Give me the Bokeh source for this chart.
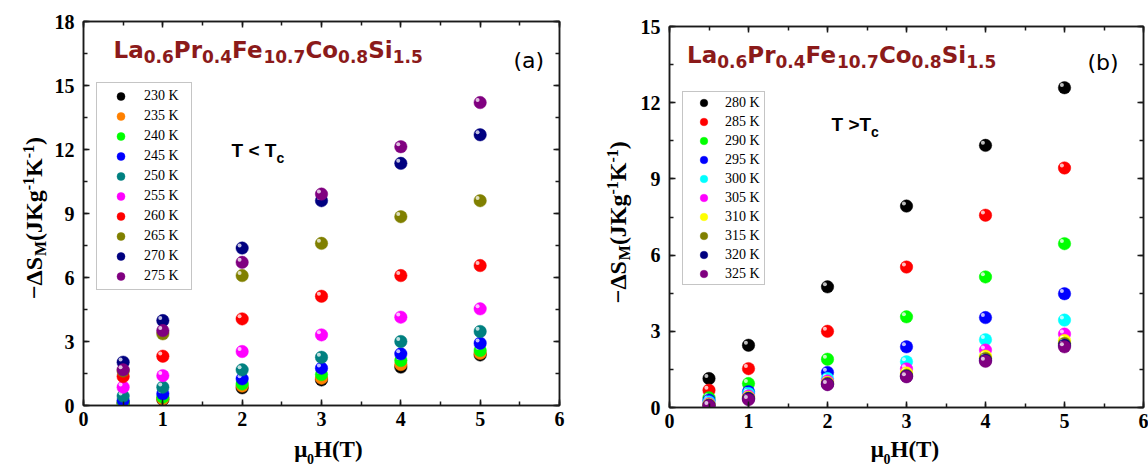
import math
from bokeh.plotting import figure
from bokeh.models import (Range1d, SingleIntervalTicker, LinearAxis, Label,
                          Legend, LegendItem, ColumnDataSource)
from bokeh.transform import dodge
from bokeh.layouts import row, column
from bokeh.embed import file_html
from bokeh.resources import INLINE

# ---------------- data ----------------
H = [0.5, 1, 2, 3, 4, 5]

labels_a = ["230 K", "235 K", "240 K", "245 K", "250 K",
            "255 K", "260 K", "265 K", "270 K", "275 K"]
colors_a = ["#000000", "#FF8000", "#00FF00", "#0000FF", "#008080",
            "#FF00FF", "#FF0000", "#808000", "#000080", "#800080"]
dS_230 = [0.10, 0.28, 0.83, 1.20, 1.80, 2.37]
dS_235 = [0.12, 0.31, 0.91, 1.28, 1.92, 2.45]
dS_240 = [0.15, 0.39, 1.01, 1.45, 2.11, 2.58]
dS_245 = [0.23, 0.55, 1.25, 1.75, 2.42, 2.92]
dS_250 = [0.44, 0.86, 1.67, 2.26, 3.00, 3.47]
dS_255 = [0.86, 1.40, 2.53, 3.31, 4.14, 4.53]
dS_260 = [1.36, 2.31, 4.06, 5.12, 6.09, 6.56]
dS_265 = [1.62, 3.36, 6.09, 7.60, 8.85, 9.60]
dS_270 = [2.03, 3.98, 7.38, 9.60, 11.35, 12.69]
dS_275 = [1.67, 3.51, 6.71, 9.91, 12.13, 14.20]
series_a = [dS_230, dS_235, dS_240, dS_245, dS_250,
            dS_255, dS_260, dS_265, dS_270, dS_275]

labels_b = ["280 K", "285 K", "290 K", "295 K", "300 K",
            "305 K", "310 K", "315 K", "320 K", "325 K"]
colors_b = ["#000000", "#FF0000", "#00FF00", "#0000FF", "#00FFFF",
            "#FF00FF", "#FFFF00", "#808000", "#000080", "#800080"]
dS_280 = [1.14, 2.45, 4.75, 7.93, 10.32, 12.59]
dS_285 = [0.68, 1.53, 3.00, 5.53, 7.57, 9.43]
dS_290 = [0.38, 0.94, 1.90, 3.57, 5.14, 6.45]
dS_295 = [0.29, 0.62, 1.38, 2.39, 3.54, 4.48]
dS_300 = [0.22, 0.55, 1.14, 1.80, 2.67, 3.44]
dS_305 = [0.15, 0.45, 1.04, 1.52, 2.26, 2.89]
dS_310 = [0.12, 0.40, 0.98, 1.36, 2.02, 2.64]
dS_315 = [0.10, 0.37, 0.95, 1.27, 1.93, 2.52]
dS_320 = [0.08, 0.35, 0.92, 1.23, 1.86, 2.45]
dS_325 = [0.07, 0.31, 0.90, 1.21, 1.82, 2.39]
series_b = [dS_280, dS_285, dS_290, dS_295, dS_300,
            dS_305, dS_310, dS_315, dS_320, dS_325]

x_ticks_interval = 1
y_ticks_interval = 3

# ---------------- text helpers ----------------
W_SERIF_B = {'−': 0.570, 'Δ': 0.667, 'S': 0.556, 'M': 0.944, '(': 0.333, 'J': 0.5,
             'K': 0.778, 'g': 0.5, '-': 0.333, '1': 0.5, ')': 0.333, 'μ': 0.556,
             'H': 0.778, 'T': 0.667, '0': 0.5}
W_DEJAVU_B = {'L': 0.637, 'a': 0.675, 'P': 0.733, 'r': 0.493, 'F': 0.683, 'e': 0.678,
              'C': 0.734, 'o': 0.687, 'S': 0.720, 'i': 0.343, '.': 0.380}
for d in "0123456789":
    W_DEJAVU_B[d] = 0.696
W_SANS_B = {'T': 0.611, ' ': 0.278, '<': 0.584, '>': 0.584, 'c': 0.556}

BASE_K = 0.37  # empirical baseline correction (fraction of font size)


def tw(text, size, table):
    return sum(table.get(ch, 0.6) for ch in text) * size


def seg_text(p, parts, x0, y0, font, table, color="black", angle=0.0, center=False):
    """parts: list of (text, size, shift) laid out along one baseline"""
    total = sum(tw(t, s, table) for t, s, _ in parts)
    if angle == 0:
        pos = x0 - total / 2 if center else x0
    else:
        pos = y0 - total / 2 if center else y0
    for t, s, sh in parts:
        corr = BASE_K * s
        if angle == 0:
            lab = Label(x=pos, y=y0 + sh + corr, text=t)
        else:
            lab = Label(x=x0 - sh - corr, y=pos, text=t, angle=angle)
        lab.x_units = "screen"
        lab.y_units = "screen"
        lab.text_font = font
        lab.text_font_style = "bold"
        lab.text_font_size = f"{s}px"
        lab.text_color = color
        lab.text_align = "left"
        lab.text_baseline = "alphabetic"
        p.add_layout(lab)
        pos += tw(t, s, table)


def text_fig(width, height):
    f = figure(width=width, height=height, x_range=Range1d(0, 1), y_range=Range1d(0, 1),
               x_axis_type=None, y_axis_type=None, output_backend="svg",
               toolbar_location=None, title=None, min_border=0,
               min_border_left=0, min_border_right=0, min_border_top=0, min_border_bottom=0)
    f.outline_line_color = None
    f.background_fill_color = "white"
    f.border_fill_color = "white"
    return f


def style_axis(ax, labels=True):
    ax.axis_line_width = 1.5
    ax.axis_line_color = "#1a1a1a"
    ax.major_tick_line_width = 1.5
    ax.minor_tick_line_width = 1.5
    ax.major_tick_line_color = "#1a1a1a"
    ax.minor_tick_line_color = "#1a1a1a"
    ax.major_tick_in = 6
    ax.major_tick_out = 0
    ax.minor_tick_in = 4
    ax.minor_tick_out = 0
    if labels:
        ax.major_label_text_font = "Liberation Serif"
        ax.major_label_text_font_style = "bold"
        ax.major_label_text_font_size = "20px"
        ax.major_label_text_color = "black"
    else:
        ax.major_label_text_font_size = "0px"
        ax.major_label_text_alpha = 0
        ax.major_label_standoff = 0


def make_panel(width, height, ymax, border, series, colors, labels, px_x, px_y, legend_cfg):
    p = figure(width=width, height=height, x_range=Range1d(0, 6), y_range=Range1d(0, ymax),
               output_backend="svg", toolbar_location=None,
               min_border_left=border[0], min_border_right=border[1],
               min_border_top=border[2], min_border_bottom=border[3])
    p.grid.visible = False
    p.outline_line_color = "#1a1a1a"
    p.outline_line_width = 1.5
    p.background_fill_color = "white"
    p.border_fill_color = "white"

    p.xaxis[0].ticker = SingleIntervalTicker(interval=x_ticks_interval, num_minor_ticks=2)
    p.yaxis[0].ticker = SingleIntervalTicker(interval=y_ticks_interval, num_minor_ticks=2)
    style_axis(p.xaxis[0])
    style_axis(p.yaxis[0])
    p.xaxis[0].major_label_standoff = 6
    p.yaxis[0].major_label_standoff = 9

    top = LinearAxis(ticker=SingleIntervalTicker(interval=x_ticks_interval, num_minor_ticks=2))
    right = LinearAxis(ticker=SingleIntervalTicker(interval=y_ticks_interval, num_minor_ticks=2))
    style_axis(top, labels=False)
    style_axis(right, labels=False)
    p.add_layout(top, "above")
    p.add_layout(right, "right")

    items = []
    for ys, c, lab in zip(series, colors, labels):
        src = ColumnDataSource(dict(x=H, y=ys))
        r = p.scatter("x", "y", source=src, size=12.5, fill_color=c, line_color=c,
                      line_alpha=0.6, line_width=0.8)
        p.scatter(x=dodge("x", -2.6 / px_x), y=dodge("y", 2.6 / px_y), source=src,
                  size=4, fill_color="white", fill_alpha=0.75, line_color=None)
        items.append(LegendItem(label=lab, renderers=[r]))

    lg = Legend(items=items)
    lg.location = legend_cfg["loc"]
    lg.padding = legend_cfg["pad"]
    lg.margin = 0
    lg.spacing = 0
    lg.glyph_height = legend_cfg["gh"]
    lg.label_height = legend_cfg["gh"]
    lg.glyph_width = legend_cfg["gw"]
    lg.label_width = legend_cfg["lw"]
    lg.label_standoff = legend_cfg["ls"]
    lg.label_text_font = "Liberation Serif"
    lg.label_text_font_size = "14px"
    lg.label_text_color = "black"
    lg.label_text_baseline = "middle"
    lg.border_line_color = "#8c8c8c"
    lg.border_line_width = 1
    lg.background_fill_color = "white"
    lg.background_fill_alpha = 1.0
    p.add_layout(lg)
    return p


TITLE_COLOR = "#8B1A1A"
title_parts = [("La", 23, 0), ("0.6", 17, -4), ("Pr", 23, 0), ("0.4", 17, -4),
               ("Fe", 23, 0), ("10.7", 17, -4), ("Co", 23, 0), ("0.8", 17, -4),
               ("Si", 23, 0), ("1.5", 17, -4)]
ylab_parts = [("−ΔS", 24, 0), ("M", 16, -3.5), ("(JKg", 24, 0), ("-1", 16, 8),
              ("K", 24, 0), ("-1", 16, 8), (")", 24, 0)]
xlab_parts = [("μ", 23, 0), ("0", 14, -6), ("H(T)", 23, 0)]

YLAB_WA = 50
YLAB_WB = 56

# ---------------- panel (a) ----------------
pA = make_panel(580 - YLAB_WA, 437, 18, (83 - YLAB_WA, 21, 21, 32), series_a, colors_a,
                labels_a, 79.3, 384 / 18,
                dict(loc=(13, 115), pad=3, gh=20, gw=41, lw=44, ls=3))
ylA = text_fig(YLAB_WA, 437)
xlA = text_fig(580, 30)

# ---------------- panel (b) ----------------
pB = make_panel(568 - YLAB_WB, 437, 15, (89 - YLAB_WB, 5, 26, 30), series_b, colors_b,
                labels_b, 79.0, 381 / 15,
                dict(loc=(13, 122), pad=1, gh=19, gw=39, lw=38, ls=2))
ylB = text_fig(YLAB_WB, 437)
xlB = text_fig(568, 30)

# the y-label figures share their frame with the neighbouring plot (row alignment),
# so their screen y is measured from the plot frame bottom
for p, yl, xl, tx, ty, ylx, ylc, xlc, xly, tag, tagx, tagy, tc_txt, tcx, tcy in [
    (pA, ylA, xlA, 30, 346.7, 42, 187.5, 327.9, 9, "(a)", 430, 345, "T < T", 148, 248.3),
    (pB, ylB, xlB, 17.5, 343.7, 46, 185.3, 324.4, 9, "(b)", 418, 345.3, "T >T", 162, 276),
]:
    seg_text(p, title_parts, tx, ty, "DejaVu Sans", W_DEJAVU_B, color=TITLE_COLOR)
    seg_text(yl, ylab_parts, ylx, ylc, "Liberation Serif", W_SERIF_B,
             angle=math.pi / 2, center=True)
    seg_text(xl, xlab_parts, xlc, xly, "Liberation Serif", W_SERIF_B, center=True)
    seg_text(p, [(tc_txt, 19, 0), ("c", 14, -6)], tcx, tcy, "Liberation Sans", W_SANS_B)
    t = Label(x=tagx, y=tagy, x_units="screen", y_units="screen", text=tag,
              text_font="DejaVu Sans", text_font_size="22px", text_color="black",
              text_baseline="middle", text_align="left")
    p.add_layout(t)

layout = row(column(row(ylA, pA), xlA), column(row(ylB, pB), xlB))
open("out.html", "w").write(file_html(layout, INLINE))
